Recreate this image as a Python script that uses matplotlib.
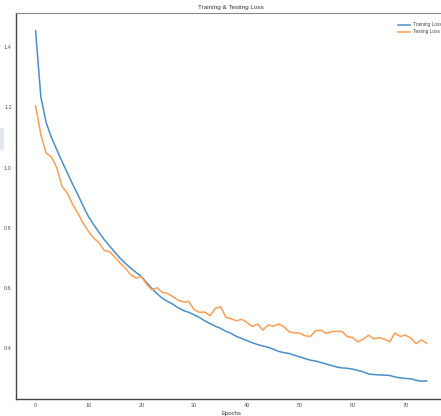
import numpy as np
import matplotlib
matplotlib.use("Agg")
from matplotlib import pyplot as plt
from matplotlib.patches import Rectangle

# loss per epoch
train_loss = [1.455, 1.235, 1.150, 1.100, 1.060, 1.020, 0.983, 0.945, 0.910, 0.872,
              0.837, 0.810, 0.784, 0.760, 0.739, 0.718, 0.698, 0.681, 0.665, 0.651,
              0.638, 0.617, 0.598, 0.580, 0.565, 0.554, 0.545, 0.533, 0.524, 0.518,
              0.510, 0.501, 0.490, 0.481, 0.472, 0.465, 0.455, 0.448, 0.438, 0.431,
              0.424, 0.417, 0.411, 0.406, 0.402, 0.395, 0.388, 0.384, 0.381, 0.375,
              0.370, 0.364, 0.359, 0.356, 0.351, 0.346, 0.341, 0.336, 0.333, 0.332,
              0.329, 0.325, 0.320, 0.313, 0.311, 0.310, 0.309, 0.308, 0.303, 0.300,
              0.298, 0.297, 0.292, 0.289, 0.290]
test_loss = [1.205, 1.110, 1.048, 1.035, 1.000, 0.937, 0.915, 0.878, 0.848, 0.815,
             0.788, 0.765, 0.750, 0.724, 0.720, 0.702, 0.682, 0.665, 0.643, 0.632,
             0.637, 0.612, 0.593, 0.600, 0.584, 0.581, 0.570, 0.558, 0.553, 0.554,
             0.527, 0.518, 0.519, 0.507, 0.531, 0.537, 0.502, 0.497, 0.490, 0.495,
             0.484, 0.471, 0.479, 0.459, 0.476, 0.472, 0.479, 0.470, 0.453, 0.450,
             0.449, 0.440, 0.438, 0.457, 0.459, 0.448, 0.454, 0.455, 0.454, 0.437,
             0.434, 0.420, 0.429, 0.442, 0.430, 0.434, 0.429, 0.420, 0.449, 0.438,
             0.442, 0.432, 0.414, 0.426, 0.416]
epochs = np.arange(len(train_loss))

plt.rcParams['font.family'] = ['Liberation Sans', 'DejaVu Sans']

fig = plt.figure(figsize=(4.41, 4.16), dpi=100)
# axes runs past the right edge, like the cropped screenshot
ax = fig.add_axes([0.0363, 0.0416, 0.9755, 0.9264])

ax.plot(epochs, train_loss, color='#4a8fcc', lw=1.1, label='Training Loss')
ax.plot(epochs, test_loss, color='#ff9d55', lw=1.1, label='Testing Loss')

ax.set_title('Training & Testing Loss', fontsize=4.6, color='#333333', pad=3)
ax.set_xlabel('Epochs', fontsize=4.3, color='#333333', labelpad=2)
ax.set_xticks(range(0, 71, 10))
ax.set_yticks([0.4, 0.6, 0.8, 1.0, 1.2, 1.4])
ax.tick_params(length=0, labelsize=4.0, labelcolor='#555555', pad=3)

for s in ['left', 'bottom']:
    ax.spines[s].set_color('#444444')
    ax.spines[s].set_linewidth(1.0)
ax.spines['top'].set_color('#888888')
ax.spines['top'].set_linewidth(0.8)
ax.spines['right'].set_color('#888888')

leg = ax.legend(loc='upper right', bbox_to_anchor=(1.0, 0.988), frameon=False,
                fontsize=3.4, handlelength=2.5, handletextpad=0.7,
                borderaxespad=0.5, labelspacing=0.45)
for t in leg.get_texts():
    t.set_color('#444444')

# small grey tab at the far left of the screenshot
fig.patches.append(Rectangle((0, 0.64), 0.008, 0.053, transform=fig.transFigure,
                             facecolor='#e3e8ee', edgecolor='none'))

fig.savefig('out.png', dpi=100)
